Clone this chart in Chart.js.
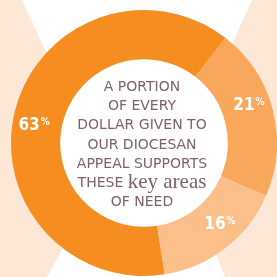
<!DOCTYPE html>
<html lang="en">

<head>
    <meta charset="UTF-8">
    <script src="https://cdn.jsdelivr.net/npm/chart.js"></script>
    <title>Diocesan appeal</title>
    <style>
        html, body { margin: 0; padding: 0; background: #fff; }
        #wrap { width: 277px; height: 277px; }
    </style>
</head>

<body>
    <div id="wrap">
        <canvas id="myChart" width="277" height="277"></canvas>
    </div>
    <script>
        // values as printed on the ring
        const shareLabels = ['63%', '21%', '16%'];
        const shareValues = [63, 21, 16];
        const shareColors = ['#f68d20', '#f9a75b', '#fbc08a'];

        // text in the hole
        const centerLines = ['A PORTION', 'OF EVERY', 'DOLLAR GIVEN TO', 'OUR DIOCESAN', 'APPEAL SUPPORTS', 'THESE|key areas', 'OF NEED'];

        const ctx = document.getElementById('myChart').getContext('2d');

        // peach side panels + white hourglass behind the ring
        const backdrop = {
            id: 'backdrop',
            beforeDraw: function (chart) {
                const c = chart.ctx;
                c.save();
                c.fillStyle = '#fde8d8';
                c.fillRect(0, 0, chart.width, chart.height);
                c.fillStyle = '#ffffff';
                c.beginPath();
                c.moveTo(22, 0);
                c.lineTo(252, 0);
                c.lineTo(187, 143);
                c.lineTo(170, 143);
                c.lineTo(225, 277);
                c.lineTo(47, 277);
                c.lineTo(121, 143);
                c.lineTo(88, 143);
                c.closePath();
                c.fill();
                // white hole
                const arc = chart.getDatasetMeta(0).data[0];
                if (arc) {
                    c.beginPath();
                    c.arc(arc.x, arc.y, arc.innerRadius + 1, 0, Math.PI * 2);
                    c.fill();
                }
                c.restore();
            }
        };

        // percent labels on the segments + the centre text
        const labelsPlugin = {
            id: 'labelsPlugin',
            afterDatasetsDraw: function (chart) {
                const c = chart.ctx;
                const meta = chart.getDatasetMeta(0);
                const big = 'bold 17px "DejaVu Sans Condensed", "DejaVu Sans", sans-serif';
                const small = 'bold 10px "DejaVu Sans Condensed", "DejaVu Sans", sans-serif';
                c.save();
                c.fillStyle = '#ffffff';
                c.textBaseline = 'middle';
                meta.data.forEach(function (arc, i) {
                    // a bit before the middle of the arc, like the print
                    const mid = (arc.startAngle + arc.endAngle) / 2 - 0.09;
                    const r = (arc.innerRadius + arc.outerRadius) / 2 + 3;
                    const px = arc.x + Math.cos(mid) * r;
                    const py = arc.y + Math.sin(mid) * r;
                    const num = shareLabels[i].replace('%', '');
                    c.font = big;
                    const w1 = c.measureText(num).width;
                    c.font = small;
                    const w2 = c.measureText('%').width;
                    const x0 = px - (w1 + w2 + 1) / 2;
                    c.textAlign = 'left';
                    c.font = big;
                    c.fillText(num, x0, py);
                    c.font = small;
                    c.fillText('%', x0 + w1 + 1, py - 3);
                });

                // centre text
                const cx = meta.data[0].x - 2;
                const top = 87;
                const step = 19.3;
                c.fillStyle = '#7b6364';
                centerLines.forEach(function (line, i) {
                    const y = top + i * step;
                    const sans = '14px "DejaVu Sans", sans-serif';
                    const serif = '21px "Liberation Serif", "DejaVu Serif", serif';
                    if (line.indexOf('|') >= 0) {
                        const parts = line.split('|');
                        c.font = sans;
                        const a = c.measureText(parts[0] + ' ').width;
                        c.font = serif;
                        const b = c.measureText(parts[1]).width;
                        const x = cx - (a + b) / 2;
                        c.textAlign = 'left';
                        c.font = sans;
                        c.fillText(parts[0] + ' ', x, y);
                        c.font = serif;
                        c.fillText(parts[1], x + a, y - 1);
                    } else {
                        c.textAlign = 'center';
                        c.font = sans;
                        c.fillText(line, cx, y);
                    }
                });
                c.restore();
            }
        };

        const myChart = new Chart(ctx, {
            type: 'doughnut',
            data: {
                labels: shareLabels,
                datasets: [{
                    data: shareValues,
                    backgroundColor: shareColors,
                    borderWidth: 0
                }]
            },
            options: {
                responsive: false,
                animation: false,
                rotation: 171,
                cutout: '63%',
                layout: {
                    padding: { left: 11, top: 9, right: 0, bottom: 0 }
                },
                plugins: {
                    legend: { display: false },
                    tooltip: { enabled: false }
                }
            },
            plugins: [backdrop, labelsPlugin]
        });
    </script>

</body>

</html>
